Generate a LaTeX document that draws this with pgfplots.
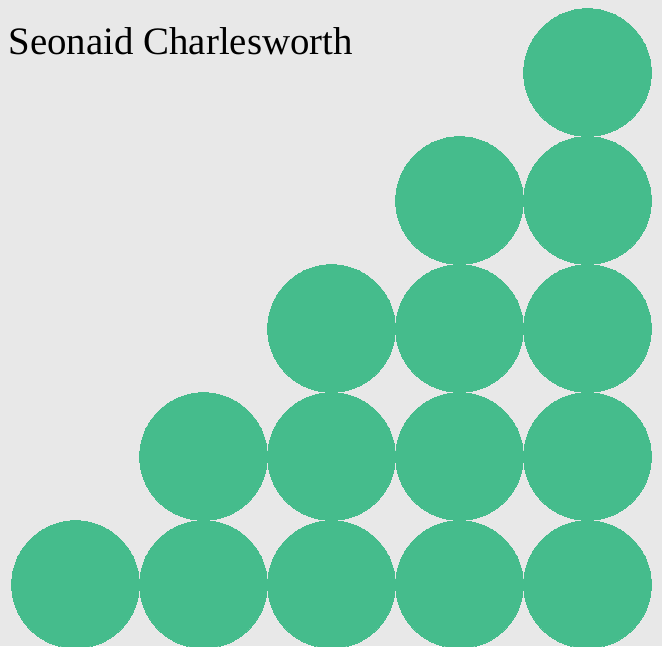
\documentclass[border=0pt]{standalone}
\usepackage{pgfplots}
\pgfplotsset{compat=1.18}
\usepackage{fontspec}
\setmainfont{Liberation Serif}
\definecolor{bg}{HTML}{E8E8E8}
\definecolor{dotgreen}{HTML}{45BC8C}
\begin{document}
\begin{tikzpicture}
\begin{axis}[
  width=6.62cm, height=6.46cm, scale only axis,
  xmin=0.41016, xmax=5.58203, ymin=0.51953, ymax=5.56641,
  axis lines=none, ticks=none,
  clip=true, clip marker paths=true,
]
\fill[bg] (rel axis cs:0,0) rectangle (rel axis cs:1,1);
\addplot[only marks, mark=*, mark size=0.638cm, color=dotgreen, mark options={fill=dotgreen, draw=dotgreen, line width=0pt}] coordinates {
(1,1)
(2,1) (2,2)
(3,1) (3,2) (3,3)
(4,1) (4,2) (4,3) (4,4)
(5,1) (5,2) (5,3) (5,4) (5,5)
};
\node[anchor=base west, font=\fontsize{11.05pt}{13pt}\selectfont, inner sep=0pt] at (rel axis cs:0.01208,0.91486) {Seonaid Charlesworth};
\end{axis}
\pgfresetboundingbox
\useasboundingbox (current axis.south west) rectangle (current axis.north east);
\end{tikzpicture}
\end{document}
